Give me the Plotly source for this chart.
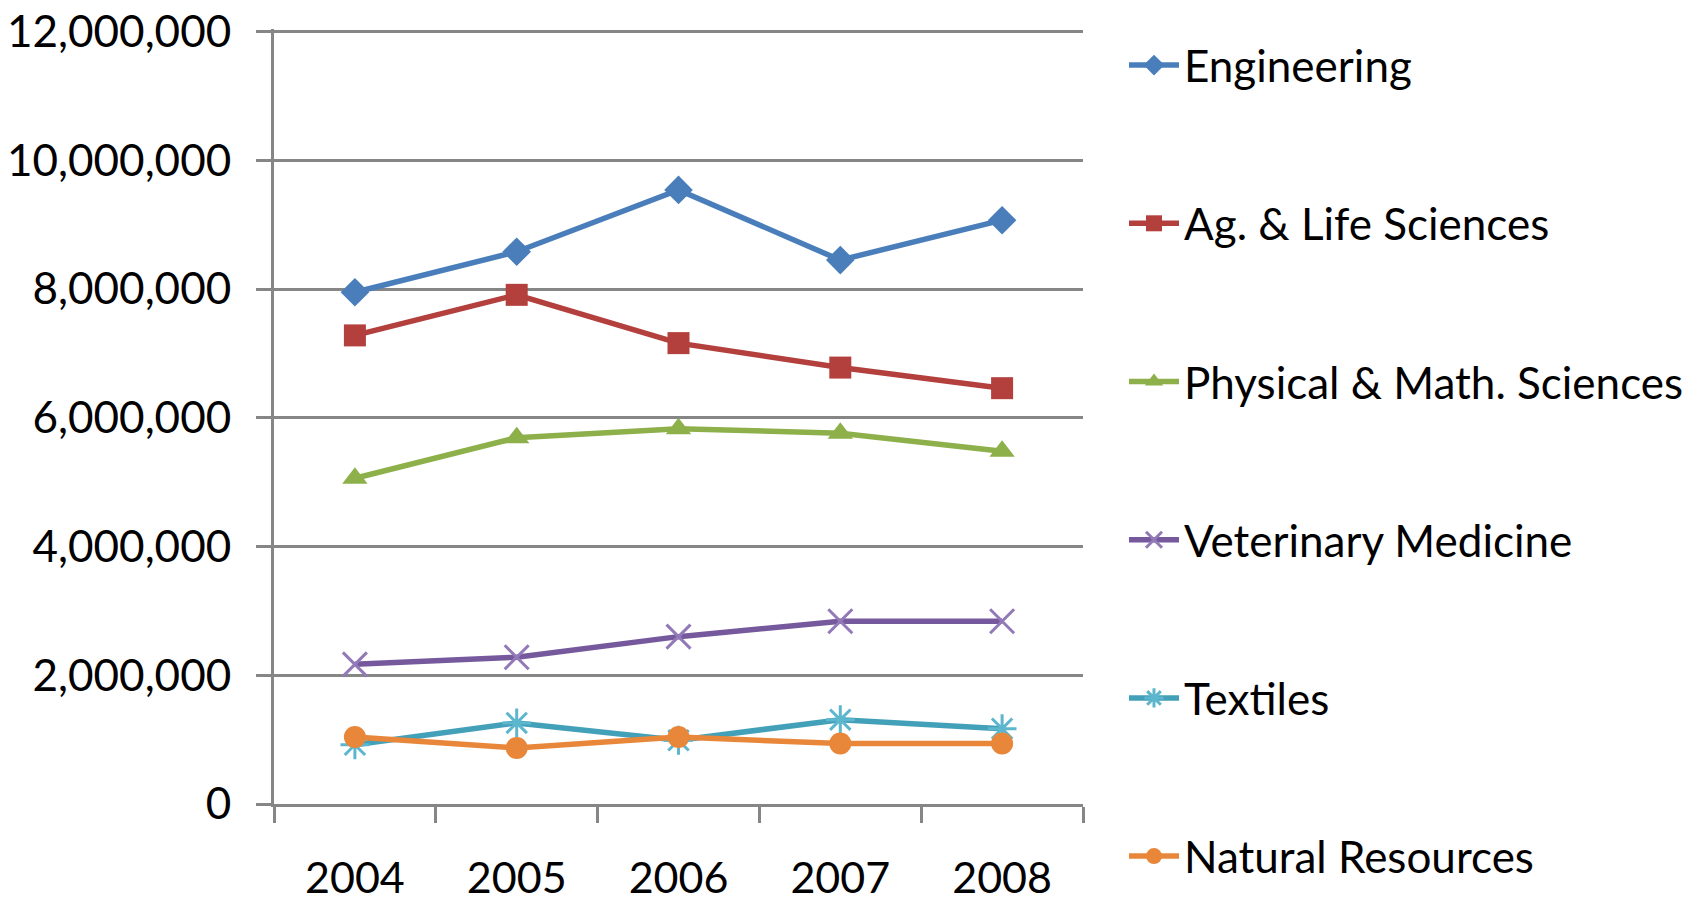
import plotly.graph_objects as go

years = ["2004", "2005", "2006", "2007", "2008"]
engineering = [7950000, 8580000, 9540000, 8450000, 9070000]
ag_life = [7280000, 7910000, 7160000, 6780000, 6460000]
phys_math = [5060000, 5690000, 5830000, 5760000, 5480000]
veterinary = [2170000, 2280000, 2600000, 2840000, 2840000]
textiles = [920000, 1260000, 990000, 1310000, 1170000]
natural_res = [1040000, 870000, 1040000, 940000, 940000]
y_ticks = [0, 2000000, 4000000, 6000000, 8000000, 10000000, 12000000]

series = [
    ("Engineering", engineering, "#4A7EBB", "diamond", "#4A7EBB"),
    ("Ag. & Life Sciences", ag_life, "#B3403D", "square", "#B3403D"),
    ("Physical & Math. Sciences", phys_math, "#8DB04A", "triangle-up", "#8DB04A"),
    ("Veterinary Medicine", veterinary, "#76599C", "x-thin", "#9279B7"),
    ("Textiles", textiles, "#43A0B9", "asterisk", "#5CB6CE"),
    ("Natural Resources", natural_res, "#E8873A", "circle", "#E8873A"),
]

FONT = "Lato"
fig = go.Figure()
for i, (name, vals, col, sym, mcol) in enumerate(series):
    thin = sym in ("x-thin", "asterisk")
    fig.add_trace(go.Scatter(
        x=years, y=vals, name=name, mode="lines+markers",
        legendgroup=f"g{i}",
        line=dict(color=col, width=5.5),
        marker=dict(symbol=sym, size=22 if not thin else 24, color=mcol,
                    line=dict(color=mcol, width=3 if thin else 0)),
    ))

fig.update_layout(
    width=1704, height=900,
    margin=dict(l=266, r=629, t=21, b=104),
    paper_bgcolor="white", plot_bgcolor="white",
    font=dict(family=FONT, size=44, color="black"),
    showlegend=True,
    legend=dict(
        xref="container", yref="container",
        x=1116 / 1704, y=1 - 22 / 900, xanchor="left", yanchor="top",
        font=dict(family=FONT, size=44, color="black"),
        traceorder="grouped", tracegroupgap=98,
        itemwidth=50, bgcolor="rgba(0,0,0,0)",
        maxheight=1.0,
    ),
    xaxis=dict(
        type="category", range=[-0.5, 4.5], tickson="boundaries", ticks="outside", ticklen=16,
        tickwidth=3, tickcolor="#868686", showline=True, linecolor="#868686",
        linewidth=3, showgrid=False, ticklabelstandoff=34, automargin=False,
        tickfont=dict(family=FONT, size=43, color="black"),
    ),
    yaxis=dict(
        range=[0, 12040000], tickvals=y_ticks,
        tickformat=",d", ticks="outside", ticklen=15, tickwidth=3, tickcolor="#868686",
        showline=True, linecolor="#868686", linewidth=3,
        showgrid=True, gridcolor="#868686", gridwidth=3, zeroline=False,
        ticklabelstandoff=16, automargin=False, ticklabeloverflow="allow",
        tickfont=dict(family=FONT, size=44, color="black"),
    ),
)

fig.write_html("out.html")
